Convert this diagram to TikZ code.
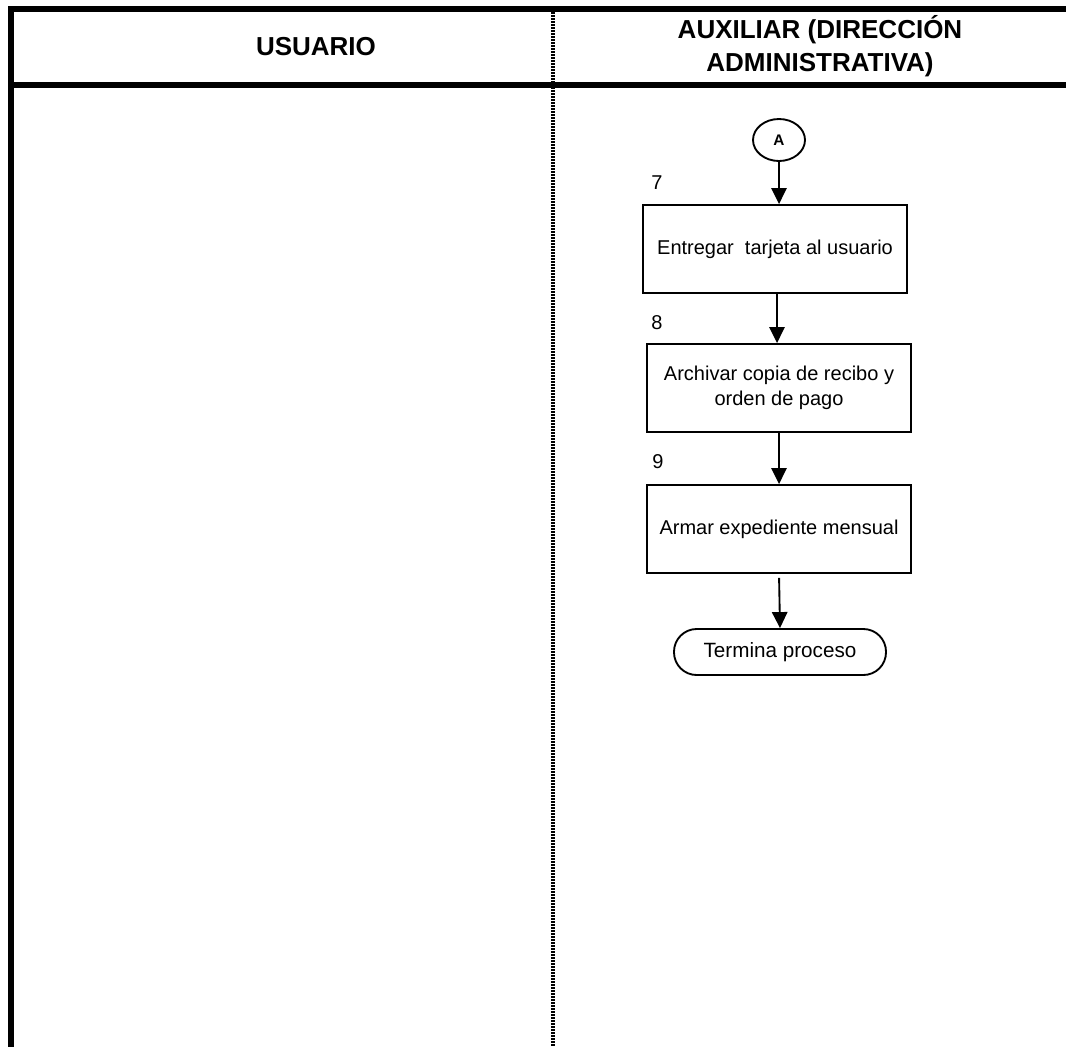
\documentclass[tikz,border=0pt]{standalone}
\usepackage{fontspec}
\setmainfont{Liberation Sans}
\usetikzlibrary{shapes.geometric,arrows.meta}
\begin{document}
\begin{tikzpicture}[x=0.75pt,y=-0.75pt,
  lanerule/.style={line width=4.5pt},
  lanesep/.style={line width=3pt,dash pattern=on 1.5pt off 0.75pt},
  hdr/.style={font=\fontsize{19.5}{24.75}\selectfont\bfseries,align=center,inner sep=0pt},
  stepbox/.style={draw,line width=1.4pt,minimum width=198pt,minimum height=66pt,
    align=center,font=\fontsize{15}{18.5}\selectfont,inner sep=2pt},
  connector/.style={draw,ellipse,line width=1.4pt,minimum width=39pt,minimum height=31.5pt,
    inner sep=0pt,font=\fontsize{11.5}{13}\selectfont\bfseries},
  terminal/.style={draw,rounded corners=17pt,line width=1.4pt,minimum width=159pt,
    minimum height=34.5pt,font=\fontsize{15.5}{18}\selectfont},
  stepno/.style={font=\fontsize{15}{17.5}\selectfont,inner sep=0pt},
  flow/.style={line width=1.4pt,-{Triangle[length=12pt,width=11.5pt]}}]

\useasboundingbox (0,0) rectangle (1066,1047);

% lane frame
\draw[lanesep] (553,12) -- (553,1047);
\draw[lanerule] (8,9) -- (1066,9);
\draw[lanerule] (8,85) -- (1066,85);
\draw[lanerule] (11,6) -- (11,1047);

% lane titles
\node[hdr] (h1) at (316,47) {USUARIO};
\node[hdr] (h2) at (820,46) {AUXILIAR (DIRECCIÓN\\ADMINISTRATIVA)};

% flow
\node[connector] (A) at (779,140) {A};
\node[stepbox] (b1) at (775,249) {Entregar~ tarjeta al usuario};
\node[stepbox] (b2) at (779,388) {Archivar copia de recibo y\\orden de pago};
\node[stepbox] (b3) at (779,529) {Armar expediente mensual};
\node[terminal] (t) at (780,652) {Termina proceso};

\node[stepno] (n7) at (657,183) {7};
\node[stepno] (n8) at (657,323) {8};
\node[stepno] (n9) at (658,462) {9};

\draw[flow] (A.south) -- (A.south |- b1.north);
\draw[flow] (b1.south -| 777,0) -- (b2.north -| 777,0);
\draw[flow] (b2.south) -- (b3.north);
\draw[flow,shorten <=3pt] (b3.south) -- (t.north);
\end{tikzpicture}
\end{document}
